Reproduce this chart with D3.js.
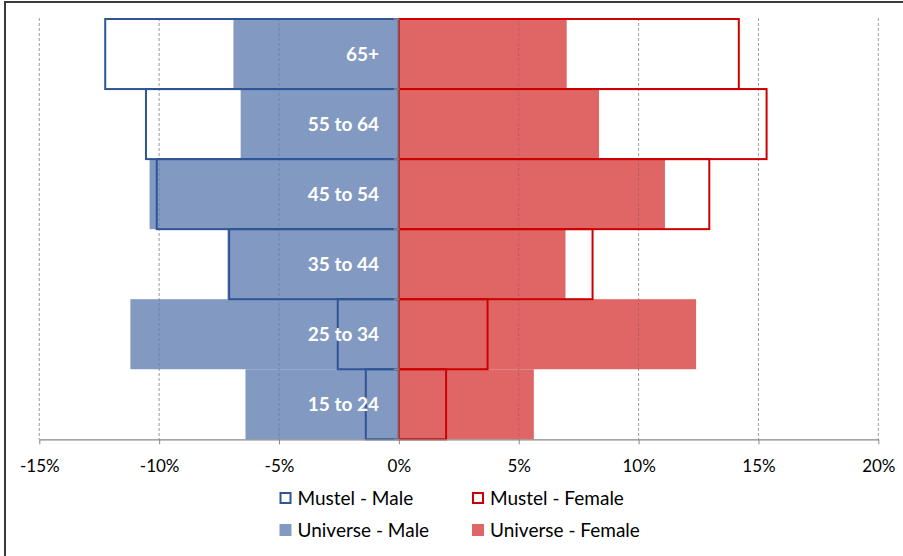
<!DOCTYPE html>
<html><head><meta charset="utf-8">
<script src="https://cdn.jsdelivr.net/npm/d3@7"></script>
<style>body{margin:0;background:#fff}svg{display:block}</style>
</head><body>
<svg id="c" width="903" height="556"></svg>
<script>
const categories = ["65+", "55 to 64", "45 to 54", "35 to 44", "25 to 34", "15 to 24"];
const universeMale = [-6.9, -6.6, -10.4, -7.15, -11.2, -6.4];
const mustelMale = [-12.25, -10.55, -10.1, -7.08, -2.55, -1.38];
const universeFemale = [7.0, 8.35, 11.1, 6.95, 12.4, 5.63];
const mustelFemale = [14.18, 15.34, 12.95, 8.08, 3.7, 1.97];
const tickValues = [-15, -10, -5, 0, 5, 10, 15, 20];
const legendLabels = ["Mustel - Male", "Mustel - Female", "Universe - Male", "Universe - Female"];

const svg = d3.select("#c");
const x = d3.scaleLinear().domain([-15, 20]).range([39.3, 878.3]);
const y = d3.scaleBand().domain(categories).range([19, 439.3]).padding(0);
const FONT = "Lato, 'Open Sans', sans-serif";
const BLUE_FILL = "#8299C2", RED_FILL = "#E06666";
const BLUE_LINE = "#2F5597", RED_LINE = "#CC0000";

// outer frame
svg.append("rect").attr("x", 5).attr("y", 2).attr("width", 920).attr("height", 580)
  .attr("fill", "none").attr("stroke", "#3a3a3a").attr("stroke-width", 2);

// gridlines (under)
const gridVals = tickValues.filter(v => v !== 0);
svg.append("g").selectAll("line").data(gridVals).join("line")
  .attr("x1", d => x(d)).attr("x2", d => x(d)).attr("y1", 18).attr("y2", 439.3)
  .attr("stroke", "#bdbdbd").attr("stroke-dasharray", "3,2").attr("stroke-width", 1);

const idx = categories.map((c, i) => i);
function bars(vals, fill, cls) {
  svg.append("g").selectAll("rect").data(idx).join("rect")
    .attr("x", i => Math.min(x(0), x(vals[i])))
    .attr("width", i => Math.abs(x(vals[i]) - x(0)))
    .attr("y", i => y(categories[i]))
    .attr("height", y.bandwidth())
    .attr("fill", fill);
}
bars(universeMale, BLUE_FILL);
bars(universeFemale, RED_FILL);

// gridlines over filled bars (visible through)
svg.append("g").selectAll("line").data(gridVals).join("line")
  .attr("x1", d => x(d)).attr("x2", d => x(d)).attr("y1", 18).attr("y2", 439.3)
  .attr("stroke", "rgba(60,60,90,0.22)").attr("stroke-dasharray", "3,2").attr("stroke-width", 1);

function outlines(vals, stroke) {
  svg.append("g").selectAll("rect").data(idx).join("rect")
    .attr("x", i => Math.min(x(0), x(vals[i])))
    .attr("width", i => Math.abs(x(vals[i]) - x(0)))
    .attr("y", i => y(categories[i]))
    .attr("height", y.bandwidth())
    .attr("fill", "none").attr("stroke", stroke).attr("stroke-width", 2);
}
outlines(mustelMale, BLUE_LINE);
outlines(mustelFemale, RED_LINE);

// vertical category axis at zero
svg.append("line").attr("x1", x(0)).attr("x2", x(0)).attr("y1", 19).attr("y2", 439.3)
  .attr("stroke", "#7f7f7f").attr("stroke-width", 1);
const bounds = categories.map(c => y(c)).concat([439.3]);
svg.append("g").selectAll("line").data(bounds).join("line")
  .attr("x1", x(0) - 5).attr("x2", x(0)).attr("y1", d => d).attr("y2", d => d)
  .attr("stroke", "#8a8a8a").attr("stroke-width", 1.5);

// category labels
svg.append("g").selectAll("text").data(categories).join("text")
  .attr("x", 379).attr("y", d => y(d) + y.bandwidth() / 2)
  .attr("dy", "0.36em").attr("text-anchor", "end")
  .attr("fill", "#fff").attr("font-family", FONT).attr("font-weight", "bold")
  .attr("font-size", 19).text(d => d);

// x axis
const ax = svg.append("g").attr("transform", "translate(0,439.3)")
  .call(d3.axisBottom(x).tickValues(tickValues).tickFormat(d => d + "%").tickSize(5).tickSizeOuter(0));
ax.select(".domain").attr("stroke", "#888").attr("stroke-width", 1.2);
ax.selectAll(".tick line").attr("stroke", "#888");
ax.selectAll(".tick text").attr("font-family", FONT).attr("font-size", 17)
  .attr("fill", "#000").attr("y", 0).attr("dy", "0").attr("transform", "translate(0,33)");

// legend
const legX = [279.5, 472], legY = [498, 530];
legendLabels.forEach((lab, k) => {
  const col = k % 2, row = Math.floor(k / 2);
  const g = svg.append("g").attr("transform", `translate(${legX[col]},${legY[row]})`);
  const isOutline = row === 0;
  const color = col === 0 ? (isOutline ? BLUE_LINE : BLUE_FILL) : (isOutline ? RED_LINE : RED_FILL);
  g.append("rect").attr("x", isOutline ? 1 : 0).attr("y", isOutline ? -5 : -6)
    .attr("width", isOutline ? 10 : 12).attr("height", isOutline ? 10 : 12)
    .attr("fill", isOutline ? "#fff" : color).attr("stroke", isOutline ? color : "none")
    .attr("stroke-width", 2);
  g.append("text").attr("x", 18).attr("y", 0).attr("dy", "0.36em")
    .attr("font-family", FONT).attr("font-size", 19).attr("fill", "#000").text(lab);
});
</script>
</body></html>
